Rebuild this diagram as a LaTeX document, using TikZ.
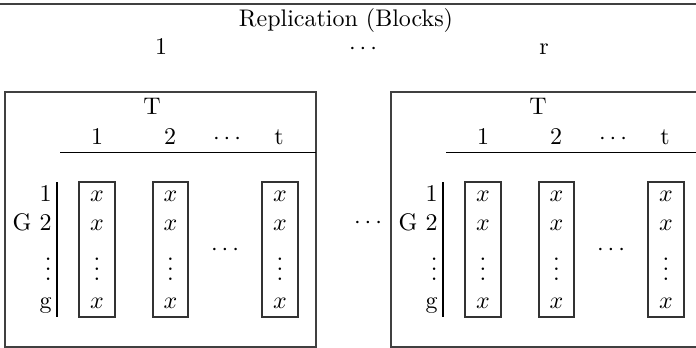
\documentclass[tikz,border=0pt]{standalone}
\begin{document}
\begin{tikzpicture}[x=0.4167pt,y=-0.4167pt,
  lbl/.style={inner sep=0pt, anchor=base},
  lblr/.style={inner sep=0pt, anchor=base east},
  vd/.style={text height=9.5pt, text depth=0pt},
  frame/.style={draw=black!75, line width=0.5pt},
  rulel/.style={draw=black, line width=0.5pt},
  colbox/.style={draw=black!80, line width=0.5pt}]
\useasboundingbox (0,0) rectangle (696,348);
\coordinate (topL) at (0,4);
\coordinate (topR) at (696,4);
\draw[frame] (topL) -- (topR);
\node[lbl] (title) at (346,27) {Replication (Blocks)};
\node[lbl] (rep1) at (161,55) {1};
\node[lbl] (repd) at (363,55) {$\cdots$};
\node[lbl] (repr) at (544,55) {r};
\node[lbl] (midd) at (368,228) {$\cdots$};
\foreach \bx/\nm in {0/a,386/b}{
  \begin{scope}[xshift=\bx*0.4167pt]
    \draw[frame] (5,92) rectangle (316,347);
    \node[lbl] (T\nm) at (152,115) {T};
    \node[lbl] (h1\nm) at (97,144) {1};
    \node[lbl] (h2\nm) at (170,144) {2};
    \node[lbl] (hd\nm) at (227,144) {$\cdots$};
    \node[lbl] (ht\nm) at (279,144) {t};
    \coordinate (hl\nm) at (60,152.5);
    \coordinate (hr\nm) at (316,152.5);
    \draw[rulel] (hl\nm) -- (hr\nm);
    \node[lblr] (r1\nm) at (52,202) {1};
    \node[lblr] (r2\nm) at (52,230) {G 2};
    \node[lblr,vd] (r3\nm) at (52,280) {$\vdots$};
    \node[lblr] (r4\nm) at (52,308) {g};
    \coordinate (vt\nm) at (57,182);
    \coordinate (vb\nm) at (57,317);
    \draw[rulel] (vt\nm) -- (vb\nm);
    \foreach \cx/\lo/\hi/\k in {97/79/115/1,170.5/153/188/2,280/262/298/3}{
      \draw[colbox] (\lo,182) rectangle (\hi,317);
      \node[lbl] (c\k a\nm) at (\cx,202) {$x$};
      \node[lbl] (c\k b\nm) at (\cx,230) {$x$};
      \node[lbl,vd] (c\k c\nm) at (\cx,280) {$\vdots$};
      \node[lbl] (c\k d\nm) at (\cx,308) {$x$};
    }
    \node[lbl] (cd\nm) at (225,255) {$\cdots$};
  \end{scope}
}
\end{tikzpicture}
\end{document}
